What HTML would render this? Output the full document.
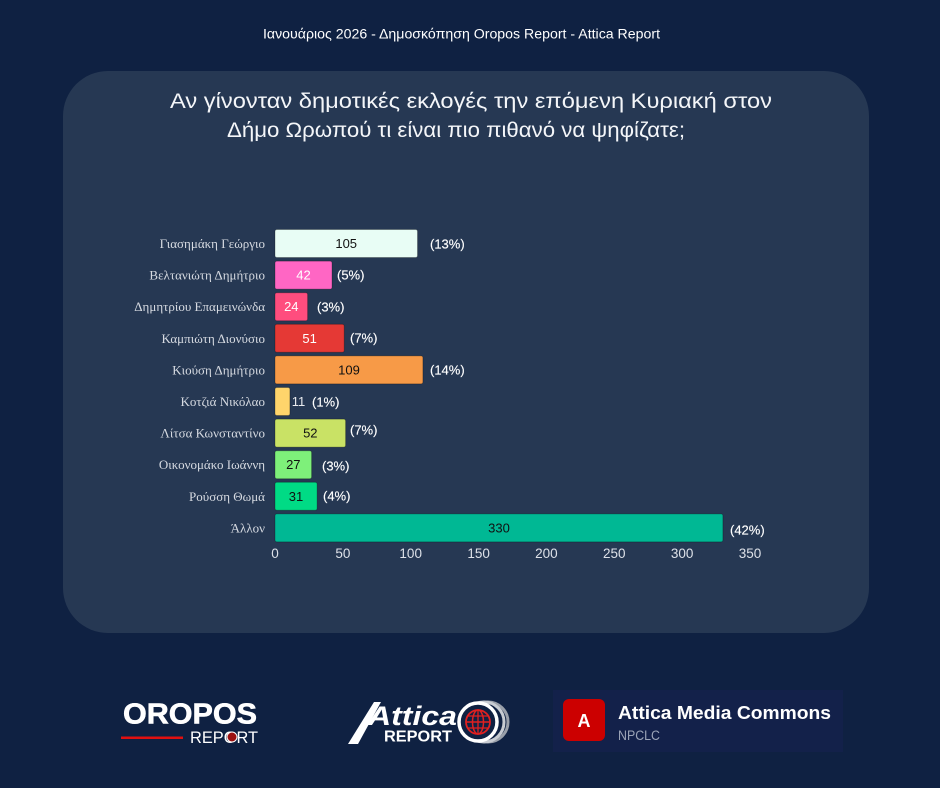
<!DOCTYPE html>
<html><head><meta charset="utf-8"><style>
html,body{margin:0;padding:0;background:#0f2142;}
svg{display:block;}
</style></head><body>
<svg width="940" height="788" viewBox="0 0 940 788" xmlns="http://www.w3.org/2000/svg">
<rect x="0" y="0" width="940" height="788" fill="#0f2142"/>
<text x="263" y="38.3" font-family="Liberation Sans, DejaVu Sans, sans-serif" font-size="13.5" fill="#ffffff" textLength="397" lengthAdjust="spacingAndGlyphs">Ιανουάριος 2026 - Δημοσκόπηση Oropos Report - Attica Report</text>
<rect x="63" y="71" width="806" height="562" rx="45" ry="45" fill="#263853"/>
<text x="170" y="108" font-family="Liberation Sans, DejaVu Sans, sans-serif" font-size="21.5" fill="#f4f6f9" textLength="602" lengthAdjust="spacingAndGlyphs">Αν γίνονταν δημοτικές εκλογές την επόμενη Κυριακή στον</text>
<text x="227" y="137" font-family="Liberation Sans, DejaVu Sans, sans-serif" font-size="21.5" fill="#f4f6f9" textLength="458" lengthAdjust="spacingAndGlyphs">Δήμο Ωρωπού τι είναι πιο πιθανό να ψηφίζατε;</text>

<g font-family="Liberation Serif, DejaVu Serif, serif" font-size="13" fill="#d6dae1" text-anchor="end">
<text x="265" y="248">Γιασημάκη Γεώργιο</text>
<text x="265" y="279.6">Βελτανιώτη Δημήτριο</text>
<text x="265" y="311.2">Δημητρίου Επαμεινώνδα</text>
<text x="265" y="342.8">Καμπιώτη Διονύσιο</text>
<text x="265" y="374.4">Κιούση Δημήτριο</text>
<text x="265" y="406">Κοτζιά Νικόλαο</text>
<text x="265" y="437.6">Λίτσα Κωνσταντίνο</text>
<text x="265" y="469.2">Οικονομάκο Ιωάννη</text>
<text x="265" y="500.8">Ρούσση Θωμά</text>
<text x="265" y="532.4">Άλλον</text>
</g>

<g stroke="rgba(0,0,0,0.25)" stroke-width="1">
<rect x="275" y="229.5" width="142.5" height="28" rx="2" fill="#e8fdf5"/>
<rect x="275" y="261.1" width="57" height="28" rx="2" fill="#ff66c4"/>
<rect x="275" y="292.7" width="32.6" height="28" rx="2" fill="#ff4d7e"/>
<rect x="275" y="324.3" width="69.2" height="28" rx="2" fill="#e53935"/>
<rect x="275" y="355.9" width="147.9" height="28" rx="2" fill="#f79a47"/>
<rect x="275" y="387.5" width="14.9" height="28" rx="2" fill="#ffd46b"/>
<rect x="275" y="419.1" width="70.6" height="28" rx="2" fill="#c9e265"/>
<rect x="275" y="450.7" width="36.6" height="28" rx="2" fill="#7ef07a"/>
<rect x="275" y="482.3" width="42.1" height="28" rx="2" fill="#00db85"/>
<rect x="275" y="513.9" width="447.9" height="28" rx="2" fill="#00b894"/>
</g>

<g font-family="Liberation Sans, DejaVu Sans, sans-serif" font-size="13" text-anchor="middle">
<text x="346.2" y="248" fill="#111">105</text>
<text x="303.5" y="279.6" fill="#fff">42</text>
<text x="291.3" y="311.2" fill="#fff">24</text>
<text x="309.6" y="342.8" fill="#fff">51</text>
<text x="349" y="374.4" fill="#111">109</text>
<text x="298.5" y="406" fill="#e8eaee">11</text>
<text x="310.3" y="437.6" fill="#111">52</text>
<text x="293.3" y="469.2" fill="#111">27</text>
<text x="296" y="500.8" fill="#111">31</text>
<text x="499" y="532.4" fill="#111">330</text>
</g>

<g font-family="Liberation Sans, DejaVu Sans, sans-serif" font-size="13" fill="#ffffff" stroke="#ffffff" stroke-width="0.15">
<text x="430" y="248.5">(13%)</text>
<text x="337" y="279.5">(5%)</text>
<text x="317" y="311.5">(3%)</text>
<text x="350" y="342.5">(7%)</text>
<text x="430" y="374.5">(14%)</text>
<text x="312" y="406.5">(1%)</text>
<text x="350" y="434.5">(7%)</text>
<text x="322" y="470.5">(3%)</text>
<text x="323" y="500.5">(4%)</text>
<text x="730" y="534.5">(42%)</text>
</g>

<g font-family="Liberation Sans, DejaVu Sans, sans-serif" font-size="13.5" fill="#dde1e8" text-anchor="middle">
<text x="275" y="558">0</text>
<text x="342.9" y="558">50</text>
<text x="410.7" y="558">100</text>
<text x="478.6" y="558">150</text>
<text x="546.4" y="558">200</text>
<text x="614.3" y="558">250</text>
<text x="682.1" y="558">300</text>
<text x="750" y="558">350</text>
</g>

<!-- OROPOS REPORT logo -->
<text x="123" y="723.5" font-family="Liberation Sans, DejaVu Sans, sans-serif" font-weight="bold" font-size="28.5" fill="#ffffff" stroke="#ffffff" stroke-width="0.6" textLength="134" lengthAdjust="spacingAndGlyphs">OROPOS</text>
<rect x="121" y="736.5" width="62" height="2.5" fill="#e01010"/>
<text x="190" y="743" font-family="Liberation Sans, DejaVu Sans, sans-serif" font-size="17" fill="#ffffff" textLength="68" lengthAdjust="spacingAndGlyphs">REPORT</text>
<circle cx="232" cy="737" r="5" fill="#9b1010" stroke="#ffffff" stroke-width="1"/>

<!-- Attica Report logo -->
<path d="M348 744 L374 702 L381 702 L358 744 Z" fill="#ffffff"/>
<text x="368" y="725" font-family="Liberation Sans, DejaVu Sans, sans-serif" font-weight="bold" font-style="italic" font-size="27" fill="#ffffff" textLength="89" lengthAdjust="spacingAndGlyphs">Attica</text>
<text x="384" y="741.5" font-family="Liberation Sans, DejaVu Sans, sans-serif" font-weight="bold" font-size="16" fill="#ffffff" textLength="68" lengthAdjust="spacingAndGlyphs">REPORT</text>
<circle cx="488" cy="722" r="20" fill="none" stroke="#9aa0aa" stroke-width="3"/>
<circle cx="484" cy="722" r="20" fill="none" stroke="#c8ccd2" stroke-width="3"/>
<circle cx="478" cy="722" r="19" fill="#0f2142" stroke="#ffffff" stroke-width="3.5"/>
<circle cx="478" cy="722" r="12" fill="none" stroke="#e02020" stroke-width="1.8"/>
<ellipse cx="478" cy="722" rx="5.5" ry="12" fill="none" stroke="#e02020" stroke-width="1.5"/>
<line x1="466" y1="722" x2="490" y2="722" stroke="#e02020" stroke-width="1.5"/>
<line x1="468" y1="716" x2="488" y2="716" stroke="#e02020" stroke-width="1.3"/>
<line x1="468" y1="728" x2="488" y2="728" stroke="#e02020" stroke-width="1.3"/>
<line x1="478" y1="710" x2="478" y2="734" stroke="#e02020" stroke-width="1.3"/>

<!-- Attica Media Commons card -->
<rect x="553" y="690" width="290" height="62" fill="#13214a"/>
<rect x="563" y="699" width="42" height="42" rx="6" fill="#cc0000"/>
<text x="584" y="727" font-family="Liberation Sans, DejaVu Sans, sans-serif" font-weight="bold" font-size="18" fill="#ffffff" text-anchor="middle">A</text>
<text x="618" y="719" font-family="Liberation Sans, DejaVu Sans, sans-serif" font-weight="bold" font-size="18" fill="#ffffff" textLength="213" lengthAdjust="spacingAndGlyphs">Attica Media Commons</text>
<text x="618" y="740" font-family="Liberation Sans, DejaVu Sans, sans-serif" font-size="13.5" fill="#9ca5b8" textLength="42" lengthAdjust="spacingAndGlyphs">NPCLC</text>
</svg>
</body></html>
